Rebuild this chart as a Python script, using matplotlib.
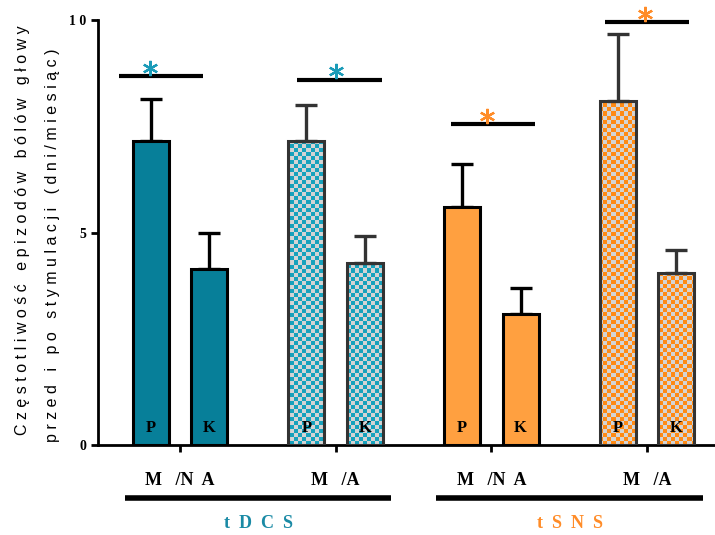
import numpy as np
import matplotlib
matplotlib.use('Agg')
import matplotlib.pyplot as plt
from matplotlib.transforms import blended_transform_factory

# data
groups = ['M   /N  A', 'M   /A', 'M   /N  A', 'M   /A']
bar_labels = ['P', 'K']
means_P = [7.15, 7.15, 5.6, 8.1]
means_K = [4.15, 4.28, 3.08, 4.05]
err_P = [1.0, 0.85, 1.02, 1.57]
err_K = [0.85, 0.65, 0.62, 0.53]
# significance bars: (start offset, end offset, height, star offset)
sig_start = [-0.39, -0.25, -0.26, -0.27]
sig_end = [0.15, 0.30, 0.28, 0.27]
sig_y = [8.68, 8.6, 7.55, 9.95]
sig_star = [-0.19, 0.0, -0.03, -0.01]
methods = ['t  D  C  S', 't  S  N  S']

teal = '#077f99'
teal_chk = '#16a2bd'
orange = '#ffa040'
orange_chk = '#ff8a14'
gray_chk = '#d4d4d4'

fill_cols = [teal, teal, orange, orange]
checker = [False, True, False, True]
chk_cols = [teal_chk, teal_chk, orange_chk, orange_chk]
star_cols = ['#1a9bb8', '#1a9bb8', '#ff8c28', '#ff8c28']
method_cols = ['#1a8aa5', '#ff8c28']

x = np.arange(1, 5)
off = 0.188
w = 0.232

fig = plt.figure(figsize=(7.15, 5.35), dpi=100)
ax = fig.add_axes([0.137, 0.168, 0.863, 0.7944])
ax.set_xlim(0.473, 4.437)
ax.set_ylim(0, 10)

# checker image covering the axes, clipped to bars
nx, ny = 154, 106
cb = (np.add.outer(np.arange(ny), np.arange(nx)) % 2)

for i in range(4):
    for j, (m, e) in enumerate([(means_P[i], err_P[i]), (means_K[i], err_K[i])]):
        xp = x[i] + (-off if j == 0 else off)
        ec = '#333333' if checker[i] else 'black'
        b = ax.bar(xp, m, width=w, color=fill_cols[i], edgecolor=ec,
                   linewidth=2.2, zorder=3)[0]
        if checker[i]:
            b.set_facecolor('none')
            cmap = matplotlib.colors.ListedColormap([chk_cols[i], gray_chk])
            im = ax.imshow(cb, cmap=cmap, extent=(0.473, 4.437, 0, 10),
                           aspect='auto', interpolation='nearest', zorder=2,
                           origin='lower')
            im.set_clip_path(b)
        ax.errorbar(xp, m, yerr=[[0], [e]], fmt='none', ecolor=ec,
                    elinewidth=2.4, capsize=8, capthick=2.4, zorder=2)
        ax.text(xp, 0.4, bar_labels[j], ha='center', va='center',
                fontsize=12, fontweight='bold', family='Liberation Serif',
                zorder=4)
    # significance
    ax.plot([x[i] + sig_start[i], x[i] + sig_end[i]], [sig_y[i]] * 2,
            color='black', lw=3, solid_capstyle='butt', clip_on=False)
    ax.plot(x[i] + sig_star[i], sig_y[i] + 0.2, marker=(6, 2, 0),
            markersize=11, mew=1.6, color=star_cols[i], clip_on=False)

ax.spines['top'].set_visible(False)
ax.spines['right'].set_visible(False)
ax.spines['left'].set_linewidth(2)
ax.spines['bottom'].set_linewidth(2)
ax.set_yticks([0, 5, 10])
ax.set_yticklabels(['0', '5', '1 0'], fontsize=10, fontweight='bold',
                   family='Liberation Serif')
ax.set_xticks(x)
ax.set_xticklabels(groups, fontsize=13, fontweight='bold',
                   family='Liberation Serif')
ax.tick_params(axis='both', width=2, length=5)
ax.tick_params(axis='x', pad=14)

fig.text(0.031, 0.57,
         'C z ę s t o t l i w o ś ć   e p i z o d ó w   b ó l ó w   g ł o w y',
         rotation=90, ha='center', va='center', fontsize=11.5,
         family='Liberation Sans')
fig.text(0.073, 0.542,
         'p r z e d   i   p o   s t y m u l a c j i   ( d n i / m i e s i ą c )',
         rotation=90, ha='center', va='center', fontsize=11.5,
         family='Liberation Sans')

# group lines
tr = blended_transform_factory(ax.transData, ax.transAxes)
grp_start = [0.646, 2.646]
grp_end = [2.357, 4.363]
for k in range(2):
    ax.plot([grp_start[k], grp_end[k]], [-0.125, -0.125], color='black',
            lw=4, transform=tr, clip_on=False, solid_capstyle='butt')
    ax.text((grp_start[k] + grp_end[k]) / 2, -0.184, methods[k],
            transform=tr, ha='center', va='center', fontsize=13,
            fontweight='bold', color=method_cols[k], family='Liberation Serif')

fig.savefig('out.png', dpi=100)
